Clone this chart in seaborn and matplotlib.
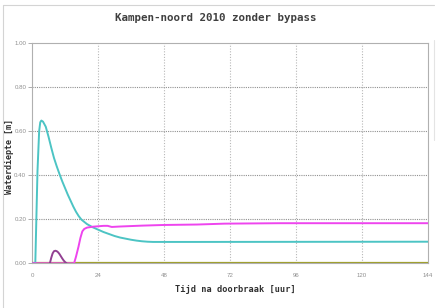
import matplotlib
matplotlib.use("Agg")
import matplotlib.pyplot as plt
import seaborn as sns
import pandas as pd
from matplotlib.lines import Line2D

# ---- data ----
cyan_t = [0, 1.2, 2.0, 2.6, 3.0, 3.4, 4.0, 5.0, 6.0, 7.0, 8.0, 9.0, 10.0, 11.0, 12.0,
          13.0, 14.0, 15.0, 16.0, 17.0, 18.0, 20.0, 22.0, 24.0, 26.0, 28.0, 30.0,
          32.0, 34.0, 36.0, 38.0, 40.0, 42.0, 44.0, 46.0, 48.0, 60.0, 144.0]
cyan_v = [0.0, 0.0, 0.42, 0.60, 0.64, 0.648, 0.643, 0.62, 0.575, 0.525, 0.478, 0.44,
          0.405, 0.372, 0.342, 0.312, 0.285, 0.258, 0.234, 0.214, 0.198, 0.178, 0.164,
          0.153, 0.142, 0.133, 0.124, 0.117, 0.112, 0.107, 0.103, 0.100, 0.098, 0.097,
          0.097, 0.097, 0.097, 0.098]

mag_t = [0, 15.3, 16.0, 16.9, 17.6, 18.3, 19.0, 20.0, 22.0, 24.0, 26.0, 27.5, 29.0,
         32.0, 40.0, 48.0, 60.0, 70.0, 90.0, 144.0]
mag_v = [0.0, 0.0, 0.03, 0.075, 0.115, 0.145, 0.156, 0.162, 0.166, 0.168, 0.170,
         0.170, 0.165, 0.167, 0.171, 0.174, 0.176, 0.180, 0.182, 0.182]

pur_t = [6.5, 7.0, 7.5, 8.0, 8.5, 9.0, 9.5, 10.0, 10.5, 11.0, 11.5, 12.0, 12.6]
pur_v = [0.0, 0.025, 0.045, 0.055, 0.057, 0.055, 0.05, 0.042, 0.032, 0.022, 0.013, 0.006, 0.0]

base_t = [0, 144]
base_v = [0.0, 0.0]

x_ticks = [0, 24, 48, 72, 96, 120, 144]
y_ticks = [0.0, 0.2, 0.4, 0.6, 0.8, 1.0]

title = "Kampen-noord 2010 zonder bypass"
xlabel = "Tijd na doorbraak [uur]"
ylabel = "Waterdiepte [m]"

# ---- plot ----
sns.set_style("white")
plt.rcParams["font.family"] = ["DejaVu Sans Mono", "DejaVu Sans"]

fig = plt.figure(figsize=(4.36, 3.08), dpi=100)
ax = fig.add_axes([32/436, 1-263.3/308, (428-32)/436, (263.3-43)/308])

sns.lineplot(x=base_t, y=base_v, ax=ax, color="#a0a030", lw=1.6, zorder=3)
sns.lineplot(x=cyan_t, y=cyan_v, ax=ax, color="#4cc4c4", lw=1.4, zorder=4)
sns.lineplot(x=mag_t, y=mag_v, ax=ax, color="#ee44ee", lw=1.4, zorder=4)
sns.lineplot(x=pur_t, y=pur_v, ax=ax, color="#924092", lw=1.4, zorder=4)

ax.set_xlim(0, 144)
ax.set_ylim(0, 1.0)
ax.set_xticks(x_ticks)
ax.set_yticks(y_ticks)
ax.set_xticklabels([str(t) for t in x_ticks], family="Liberation Sans")
ax.set_yticklabels([f"{v:.2f}" for v in y_ticks], family="Liberation Sans")
ax.tick_params(axis="both", labelsize=4.4, colors="#a0a0a0", width=0.6,
               labelcolor="#909090")
ax.tick_params(axis="x", pad=7, length=0)
ax.tick_params(axis="y", pad=1.2, length=3, left=True)
ax.set_xlabel("")
ax.set_ylabel("")

for x in x_ticks[1:-1]:
    ax.axvline(x, color="#b8b8b8", lw=0.8, ls=(0, (1, 1.5)), zorder=1)
for y in y_ticks[1:-1]:
    ax.axhline(y, color="#909090", lw=0.8, ls=(0, (1, 1)), zorder=1)

for s in ["left", "top", "right", "bottom"]:
    ax.spines[s].set_color("#b0b0b0")
    ax.spines[s].set_linewidth(0.8)

fig.text(215.5/436, 1-18/308, title, ha="center", va="center", fontsize=7.8,
         fontweight="bold", color="#404040")
fig.text(235/436, 1-289/308, xlabel, ha="center", va="center", fontsize=6.2,
         fontweight="bold", color="#303030")
fig.text(9.5/436, 1-157/308, ylabel, ha="center", va="center", fontsize=6.0,
         fontweight="bold", color="#303030", rotation=90)

# outer frame
fig.add_artist(Line2D([3/436, 434/436], [1-5/308, 1-5/308], color="#d4d4d4", lw=0.8))
fig.add_artist(Line2D([3/436, 3/436], [1-5/308, 0], color="#d4d4d4", lw=0.8))
fig.add_artist(Line2D([434/436, 434/436], [1-40/308, 1-140/308], color="#e4e4e4", lw=0.8))

fig.savefig("out.png", dpi=100)
